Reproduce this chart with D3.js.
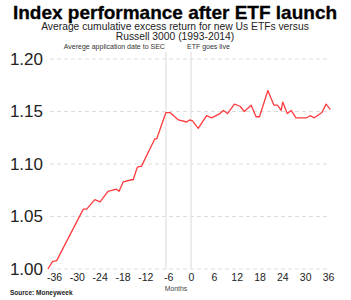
<!DOCTYPE html>
<html>
<head>
<meta charset="utf-8">
<script src="https://cdn.jsdelivr.net/npm/d3@7"></script>
<style>
  body { margin: 0; background: #fff; }
  svg { display: block; font-family: "Liberation Sans", Arial, sans-serif; }
</style>
</head>
<body>
<svg id="chart"></svg>
<script>
// months relative to ETF launch, and the cumulative excess return index
const months = [-37.6, -36.4, -35.3, -28.3, -27.4, -25.3, -23.9, -21.8, -19.6, -18.9, -17.8, -15.6, -15.2,
  -14.1, -13.0, -9.5, -9.0, -6.6, -5.5, -3.3, -1.1, -0.4, 0.4, 1.9, 4.1, 5.4, 7.6, 8.5, 9.6, 11.4, 12.9,
  14.0, 15.8, 17.1, 18.0, 20.2, 21.8, 22.7, 23.7, 24.1, 25.3, 26.3, 27.6, 30.4, 31.3, 32.4, 34.4, 35.5, 36.6];
const values = [1.000, 1.007, 1.008, 1.057, 1.057, 1.066, 1.064, 1.074, 1.076, 1.074, 1.083, 1.085, 1.085,
  1.097, 1.098, 1.124, 1.124, 1.149, 1.149, 1.142, 1.140, 1.142, 1.141, 1.134, 1.146, 1.144, 1.148, 1.151, 1.148,
  1.157, 1.155, 1.150, 1.156, 1.145, 1.145, 1.170, 1.156, 1.156, 1.151, 1.159, 1.148, 1.151, 1.144, 1.144, 1.146,
  1.144, 1.149, 1.157, 1.152];
const xTicks = [-36, -30, -24, -18, -12, -6, 0, 6, 12, 18, 24, 30, 36];
const yTicks = [1.00, 1.05, 1.10, 1.15, 1.20];
const eventMonths = [-6.6, 0];
const eventLabels = ['Averege application date to SEC', 'ETF goes live'];

const width = 351, height = 300;
const svg = d3.select('#chart').attr('width', width).attr('height', height);

const x = d3.scaleLinear().domain([-36, 36]).range([54, 328]);
const y = d3.scaleLinear().domain([1.00, 1.20]).range([269, 59]);

// Title and subtitle
svg.append('text')
  .attr('x', 175).attr('y', 18.5)
  .attr('text-anchor', 'middle')
  .style('font-size', '19px').style('font-weight', 'bold')
  .style('stroke', '#000').style('stroke-width', 0.3)
  .text('Index performance after ETF launch');

svg.append('text')
  .attr('x', 175).attr('y', 29.5)
  .attr('text-anchor', 'middle')
  .style('font-size', '10.3px').style('fill', '#222')
  .text('Average cumulative excess return for new Us ETFs versus');

svg.append('text')
  .attr('x', 175).attr('y', 40)
  .attr('text-anchor', 'middle')
  .style('font-size', '10.3px').style('fill', '#222')
  .text('Russell 3000 (1993-2014)');

// Dashed gridlines
svg.append('g')
  .selectAll('line')
  .data(yTicks)
  .join('line')
  .attr('x1', 50).attr('x2', 327)
  .attr('y1', d => y(d)).attr('y2', d => y(d))
  .attr('stroke', '#dcdcdc')
  .attr('stroke-width', 1)
  .attr('stroke-dasharray', '4,3');

// Event lines
svg.append('g')
  .selectAll('line')
  .data(eventMonths)
  .join('line')
  .attr('x1', d => x(d)).attr('x2', d => x(d))
  .attr('y1', 52).attr('y2', 269)
  .attr('stroke', '#e6e6e6')
  .attr('stroke-width', 1.5);

svg.append('text')
  .attr('x', x(eventMonths[0]) - 1).attr('y', 49)
  .attr('text-anchor', 'end')
  .style('font-size', '7px').style('fill', '#333')
  .text(eventLabels[0]);

svg.append('text')
  .attr('x', x(eventMonths[1]) - 4).attr('y', 49)
  .style('font-size', '7px').style('fill', '#333')
  .text(eventLabels[1]);

// Axes
const yAxis = svg.append('g')
  .attr('transform', 'translate(50,0)')
  .call(d3.axisLeft(y).tickValues(yTicks).tickFormat(d3.format('.2f')).tickSize(0).tickPadding(7));
yAxis.select('.domain').remove();
yAxis.selectAll('text')
  .style('font-size', '17px').style('fill', '#222')
  .style('font-family', '"Liberation Sans", Arial, sans-serif');

const xAxis = svg.append('g')
  .attr('transform', 'translate(0,269)')
  .call(d3.axisBottom(x).tickValues(xTicks).tickFormat(d => String(d)).tickSize(0).tickPadding(5));
xAxis.select('.domain').remove();
xAxis.selectAll('text')
  .style('font-size', '10.5px').style('fill', '#222')
  .style('font-family', '"Liberation Sans", Arial, sans-serif');

svg.append('text')
  .attr('x', 176).attr('y', 290.5)
  .attr('text-anchor', 'middle')
  .style('font-size', '6.8px').style('fill', '#444')
  .text('Months');

svg.append('text')
  .attr('x', 10).attr('y', 295)
  .style('font-size', '6.5px').style('font-weight', 'bold').style('fill', '#222')
  .text('Source: Moneyweek');

// Line
const points = months.map((m, i) => [m, values[i]]);
svg.append('path')
  .datum(points)
  .attr('fill', 'none')
  .attr('stroke', '#ff3b3f')
  .attr('stroke-width', 1.3)
  .attr('stroke-linejoin', 'round')
  .attr('d', d3.line().x(d => x(d[0])).y(d => y(d[1])));
</script>
</body>
</html>
